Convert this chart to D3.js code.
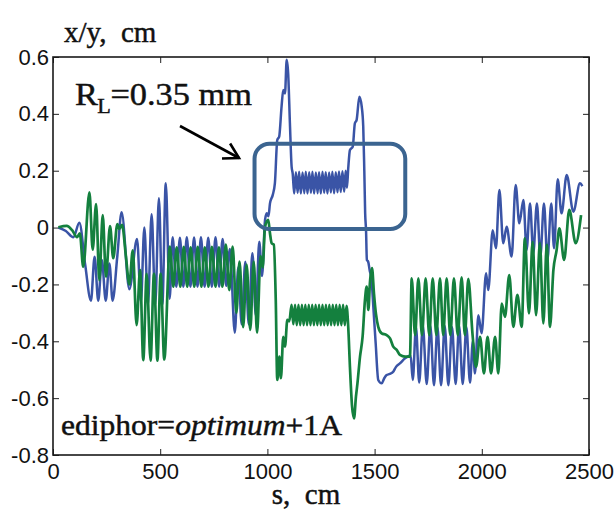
<!DOCTYPE html>
<html>
<head>
<meta charset="utf-8">
<script src="https://cdn.jsdelivr.net/npm/d3@7/dist/d3.min.js"></script>
<style>
  html, body { margin: 0; padding: 0; background: #fff; }
  svg { display: block; }
</style>
</head>
<body>
<svg id="chart" width="616" height="510"></svg>
<script>
// Axis ticks
const sTicks = [0, 500, 1000, 1500, 2000, 2500];
const sTickLabels = ["0", "500", "1000", "1500", "2000", "2500"];
const vTicks = [-0.8, -0.6, -0.4, -0.2, 0, 0.2, 0.4, 0.6];
const vTickLabels = ["-0.8", "-0.6", "-0.4", "-0.2", "0", "0.2", "0.4", "0.6"];

// Horizontal beam offset x(s), cm  — [s, x]
const xOrbit = [
  [25, 0.000], [60, -0.012], [95, -0.034], [123, 0.017], [150, -0.13],
  [177, -0.257], [194, -0.103], [211, -0.257], [228, -0.114], [246, -0.257],
  [263, -0.126], [278, -0.257], [300, -0.10], [320, 0.054], [356, -0.217],
  [392, -0.04], [410, -0.26], [426, 0.0], [443, -0.27], [460, 0.047],
  [477, -0.27], [494, 0.103], [510, -0.27], [526, 0.156], [544, -0.25],
  [558, -0.034], [575, -0.208], [592, -0.036], [608, -0.208], [624, -0.034],
  [641, -0.208], [658, -0.035], [674, -0.208], [690, -0.034], [707, -0.208],
  [724, -0.036], [741, -0.208], [758, -0.034], [775, -0.208], [791, -0.04],
  [808, -0.205], [825, -0.075], [848, -0.37], [864, -0.14], [880, -0.34],
  [897, -0.12], [913, -0.34], [930, -0.09], [946, -0.31], [962, -0.05],
  [975, -0.17], [989, 0.027], [997, 0.05], [1005, 0.04], [1012, 0.085],
  [1025, 0.115], [1035, 0.156], [1046, 0.308], [1055, 0.32], [1066, 0.425],
  [1074, 0.484], [1082, 0.472], [1090, 0.59], [1097, 0.54], [1105, 0.367],
  [1113, 0.214], [1118, 0.19],
  [1125, 0.12], [1133, 0.195], [1141, 0.122], [1148, 0.196], [1156, 0.12],
  [1164, 0.194], [1172, 0.121], [1179, 0.196], [1187, 0.12], [1195, 0.195],
  [1203, 0.122], [1210, 0.196], [1218, 0.12], [1226, 0.194], [1234, 0.121],
  [1241, 0.195], [1249, 0.12], [1257, 0.196], [1265, 0.122], [1272, 0.195],
  [1280, 0.12], [1288, 0.194], [1296, 0.123], [1303, 0.196], [1311, 0.121],
  [1319, 0.195], [1327, 0.124], [1334, 0.197], [1342, 0.125], [1350, 0.198],
  [1358, 0.126], [1365, 0.2], [1371, 0.14], [1377, 0.208],
  [1385, 0.273], [1398, 0.284], [1408, 0.367], [1416, 0.378], [1429, 0.46],
  [1440, 0.425], [1447, 0.355], [1452, 0.2], [1456, 0.05], [1460, -0.009],
  [1464, -0.114], [1470, -0.12], [1477, -0.15], [1486, -0.185], [1494, -0.278],
  [1505, -0.407], [1517, -0.536], [1533, -0.548], [1545, -0.53], [1556, -0.519],
  [1570, -0.515], [1587, -0.507], [1600, -0.49], [1618, -0.478], [1642, -0.46],
  [1668, -0.45],
  [1678, -0.536], [1693, -0.35], [1708, -0.545], [1725, -0.345], [1743, -0.55],
  [1760, -0.345], [1777, -0.555], [1793, -0.35], [1810, -0.555], [1827, -0.345],
  [1844, -0.555], [1861, -0.35], [1878, -0.55], [1894, -0.345], [1911, -0.55],
  [1928, -0.35], [1945, -0.545], [1958, -0.4], [1968, -0.513],
  [1984, -0.308], [1999, -0.372], [2020, -0.161], [2030, -0.22], [2051, -0.009],
  [2066, -0.073], [2082, 0.132], [2100, -0.055], [2116, 0.003], [2139, -0.102],
  [2158, 0.15], [2175, 0.015], [2194, 0.097], [2209, -0.079], [2225, 0.085],
  [2240, -0.091], [2257, 0.085], [2273, -0.102], [2290, 0.085], [2306, -0.114],
  [2324, 0.085], [2337, -0.073], [2354, 0.17], [2372, 0.05], [2396, 0.185],
  [2427, 0.056], [2458, 0.156], [2469, 0.146]
];

// Vertical beam offset y(s), cm  — [s, y]
const yOrbit = [
  [25, 0.001], [64, 0.006], [90, -0.01], [112, -0.034], [125, -0.02],
  [141, -0.138], [170, 0.124], [185, -0.078], [201, 0.083], [216, -0.185],
  [232, 0.044], [247, -0.173], [266, 0.005], [281, -0.108], [300, 0.012],
  [310, -0.005], [322, 0.01], [340, -0.1], [356, -0.2], [372, -0.08],
  [390, -0.343], [406, -0.15], [421, -0.466], [437, -0.163], [455, -0.468],
  [471, -0.163], [487, -0.468], [502, -0.163], [519, -0.464],
  [545, -0.067], [561, -0.208], [577, -0.07], [594, -0.208], [610, -0.068],
  [626, -0.208], [642, -0.07], [659, -0.208], [675, -0.068], [692, -0.208],
  [708, -0.07], [725, -0.208], [741, -0.068], [758, -0.208], [774, -0.07],
  [790, -0.208], [806, -0.06], [822, -0.22], [838, -0.067],
  [855, -0.3], [870, -0.12], [887, -0.35], [903, -0.13], [920, -0.36],
  [936, -0.12], [952, -0.37], [968, -0.1], [978, -0.14], [989, 0.003],
  [1004, 0.027], [1012, -0.02], [1020, -0.055], [1030, -0.06], [1039, -0.255],
  [1046, -0.536], [1056, -0.454], [1063, -0.53], [1074, -0.384], [1082, -0.419],
  [1093, -0.325], [1102, -0.33], [1113, -0.272],
  [1121, -0.34], [1129, -0.272], [1137, -0.343], [1145, -0.272], [1153, -0.343],
  [1161, -0.272], [1169, -0.343], [1177, -0.272], [1185, -0.343], [1193, -0.272],
  [1201, -0.343], [1209, -0.272], [1217, -0.343], [1225, -0.272], [1233, -0.343],
  [1241, -0.272], [1249, -0.343], [1257, -0.272], [1265, -0.343], [1273, -0.272],
  [1281, -0.343], [1289, -0.272], [1297, -0.343], [1305, -0.272], [1313, -0.343],
  [1321, -0.272], [1329, -0.343], [1337, -0.272], [1345, -0.343], [1353, -0.272],
  [1361, -0.343], [1369, -0.275], [1377, -0.349],
  [1385, -0.49], [1395, -0.63], [1404, -0.671], [1413, -0.595], [1420, -0.548],
  [1432, -0.454], [1444, -0.384], [1455, -0.255], [1463, -0.208], [1471, -0.29],
  [1478, -0.196], [1488, -0.143], [1497, -0.231], [1506, -0.302], [1517, -0.349],
  [1533, -0.372], [1556, -0.378], [1572, -0.39], [1587, -0.419], [1603, -0.43],
  [1618, -0.448], [1642, -0.454], [1665, -0.454],
  [1673, -0.179], [1689, -0.378], [1704, -0.179], [1721, -0.378], [1738, -0.179],
  [1755, -0.378], [1771, -0.179], [1788, -0.378], [1805, -0.179], [1820, -0.378],
  [1836, -0.179], [1853, -0.378], [1870, -0.179], [1888, -0.378], [1906, -0.175],
  [1921, -0.378], [1937, -0.18], [1957, -0.378],
  [1973, -0.49], [1992, -0.384], [2010, -0.513], [2027, -0.384], [2043, -0.513],
  [2062, -0.384], [2077, -0.513], [2093, -0.267], [2108, -0.314], [2128, -0.167],
  [2147, -0.349], [2166, -0.237], [2186, -0.349], [2201, -0.038], [2220, -0.302],
  [2237, -0.05], [2253, -0.308], [2271, -0.055], [2287, -0.337], [2303, -0.061],
  [2318, -0.349], [2334, -0.149], [2349, -0.079], [2362, -0.003], [2384, -0.114],
  [2408, 0.062], [2438, -0.055], [2463, 0.044]
];

// Highlighted region (s range, offset range)
const boxS = [940, 1643];
const boxV = [-0.005, 0.295];

const W = 616, H = 510;
const margin = { top: 57, right: 27, bottom: 55, left: 53 };
const plotW = W - margin.left - margin.right;
const plotH = H - margin.top - margin.bottom;

const SERIF = '"Liberation Serif", "Times New Roman", serif';
const SANS = '"Liberation Sans", Arial, sans-serif';

const svg = d3.select("#chart");

const x = d3.scaleLinear().domain([0, 2500]).range([margin.left, margin.left + plotW]);
const y = d3.scaleLinear().domain([-0.8, 0.6]).range([margin.top + plotH, margin.top]);

// Axes with inward ticks on all four sides
function styleAxis(g) {
  g.attr("font-family", null).attr("font-size", null);
  g.select(".domain").remove();
  g.selectAll(".tick line").attr("stroke", "#222").attr("stroke-width", 1);
  g.selectAll(".tick text")
    .attr("fill", "#111")
    .style("font-family", SANS)
    .style("font-size", "22px");
}

svg.append("g")
  .attr("transform", `translate(0,${margin.top + plotH})`)
  .call(d3.axisBottom(x).tickValues(sTicks).tickFormat((d, i) => sTickLabels[i])
    .tickSizeInner(-6).tickSizeOuter(0).tickPadding(8))
  .call(styleAxis);

svg.append("g")
  .attr("transform", `translate(${margin.left},0)`)
  .call(d3.axisLeft(y).tickValues(vTicks).tickFormat((d, i) => vTickLabels[i])
    .tickSizeInner(-6).tickSizeOuter(0).tickPadding(4))
  .call(styleAxis);

svg.append("g")
  .attr("transform", `translate(0,${margin.top})`)
  .call(d3.axisTop(x).tickValues(sTicks).tickFormat("").tickSizeInner(-6).tickSizeOuter(0))
  .call(styleAxis);

svg.append("g")
  .attr("transform", `translate(${margin.left + plotW},0)`)
  .call(d3.axisRight(y).tickValues(vTicks).tickFormat("").tickSizeInner(-6).tickSizeOuter(0))
  .call(styleAxis);

// Orbit traces
const line = d3.line()
  .x(d => x(d[0]))
  .y(d => y(d[1]))
  .curve(d3.curveMonotoneX);

svg.append("path")
  .datum(xOrbit)
  .attr("d", line)
  .attr("fill", "none")
  .attr("stroke", "#3a54a6")
  .attr("stroke-width", 2.5)
  .attr("stroke-linejoin", "round");

svg.append("path")
  .datum(yOrbit)
  .attr("d", line)
  .attr("fill", "none")
  .attr("stroke", "#14803e")
  .attr("stroke-width", 2.7)
  .attr("stroke-linejoin", "round");

// Plot frame
svg.append("rect")
  .attr("x", margin.left).attr("y", margin.top)
  .attr("width", plotW).attr("height", plotH)
  .attr("fill", "none").attr("stroke", "#1a1a1a").attr("stroke-width", 1.6);

// Highlight box
svg.append("rect")
  .attr("x", x(boxS[0])).attr("y", y(boxV[1]))
  .attr("width", x(boxS[1]) - x(boxS[0]))
  .attr("height", y(boxV[0]) - y(boxV[1]))
  .attr("rx", 15).attr("ry", 15)
  .attr("fill", "none").attr("stroke", "#3b6490").attr("stroke-width", 4);

// Arrow pointing at the box
const tail = [180, 126], tip = [239, 158];
const ang = Math.atan2(tip[1] - tail[1], tip[0] - tail[0]);
const headLen = 17, headSpread = Math.PI / 6;
svg.append("line")
  .attr("x1", tail[0]).attr("y1", tail[1]).attr("x2", tip[0]).attr("y2", tip[1])
  .attr("stroke", "#000").attr("stroke-width", 2.6);
svg.append("path")
  .attr("d", d3.line()([
    [tip[0] - headLen * Math.cos(ang - headSpread), tip[1] - headLen * Math.sin(ang - headSpread)],
    tip,
    [tip[0] - headLen * Math.cos(ang + headSpread), tip[1] - headLen * Math.sin(ang + headSpread)]
  ]))
  .attr("fill", "none").attr("stroke", "#000").attr("stroke-width", 2.6)
  .attr("stroke-linejoin", "miter");

// Serif label inside a group that is stretched horizontally to a given width
function serifText(parent, px) {
  return parent.append("text")
    .style("font-family", SERIF)
    .style("font-size", px + "px")
    .style("white-space", "pre")
    .attr("fill", "#111")
    .attr("stroke", "#111")
    .attr("stroke-width", 0.45);
}
function stretchTo(g, x0, y0, width) {
  const bb = g.node().getBBox();
  const k = width / bb.width;
  g.attr("transform", `translate(${x0 - bb.x * k},${y0}) scale(${k},1)`);
}

// Axis titles
serifText(svg, 29).attr("x", 64).attr("y", 42).text("x/y,  cm");
serifText(svg, 29).attr("x", 306).attr("y", 504).attr("text-anchor", "middle").text("s,  cm");

// Larmor radius annotation
const rl = svg.append("g");
serifText(rl, 31).attr("x", 0).attr("y", 0).text("R");
serifText(rl, 20).attr("x", 20).attr("y", 8).text("L");
serifText(rl, 31).attr("x", 32).attr("y", 0).text("=0.35 mm");
stretchTo(rl, 75, 105, 177);

// Corrector setting
const cg = svg.append("g");
const corr = serifText(cg, 29).attr("x", 0).attr("y", 0);
corr.append("tspan").text("ediphor=");
corr.append("tspan").style("font-style", "italic").text("optimum");
corr.append("tspan").text("+1A");
stretchTo(cg, 61, 435, 281);
</script>
</body>
</html>
